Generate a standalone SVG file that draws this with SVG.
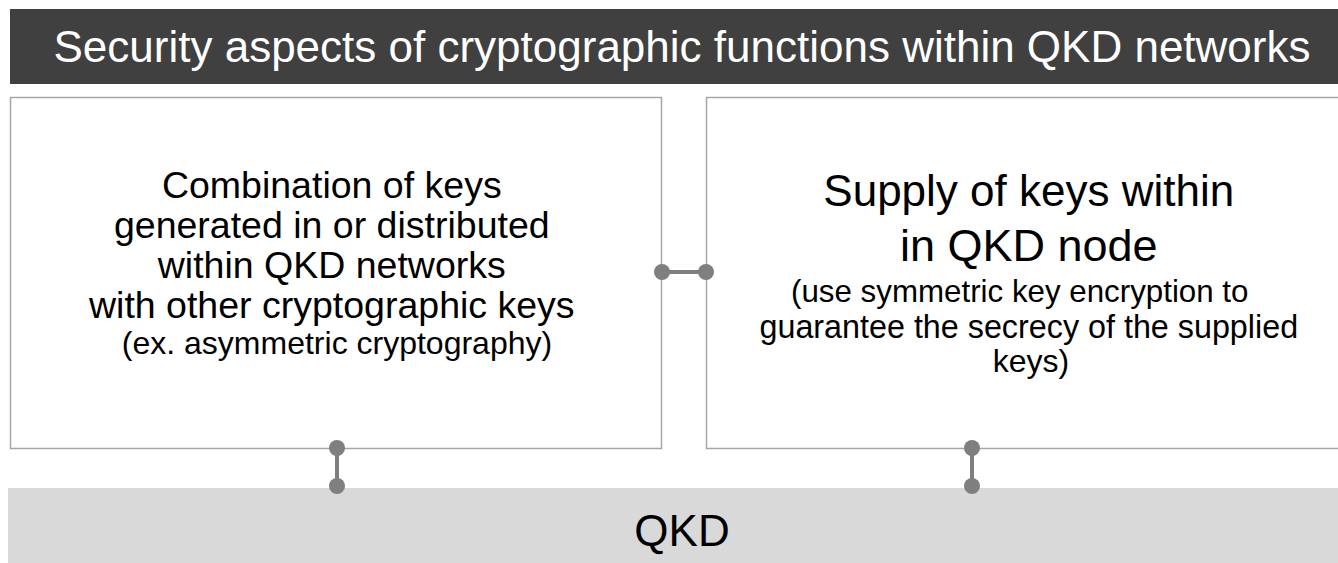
<svg xmlns="http://www.w3.org/2000/svg" width="1338" height="563" viewBox="0 0 1338 563">
  <style>
    .box { fill: #ffffff; stroke: #a6a6a6; stroke-width: 1.5; }
    .txt { font-family: "Liberation Sans", Arial, sans-serif; fill: #000000; text-anchor: middle; }
    .head { fill: #ffffff; }
    .link { stroke: #7f7f7f; stroke-width: 4; fill: none; }
    .dot { fill: #7f7f7f; }
  </style>
  <rect width="1338" height="563" fill="#ffffff"/>

  <g id="title">
    <rect x="10" y="9" width="1330" height="75" fill="#404040"/>
    <text class="txt head" x="682" y="62" font-size="44">Security aspects of cryptographic functions within QKD networks</text>
  </g>

  <g id="combination">
    <rect class="box" x="10.5" y="97.5" width="651" height="351"/>
    <text class="txt" font-size="37.5">
      <tspan x="337" y="198">Combination of keys</tspan>
      <tspan x="337" y="238">generated in or distributed</tspan>
      <tspan x="337" y="278">within QKD networks</tspan>
      <tspan x="337" y="318">with other cryptographic keys</tspan>
      <tspan x="337" y="354" font-size="32">(ex. asymmetric cryptography)</tspan>
    </text>
  </g>

  <g id="supply">
    <rect class="box" x="706.5" y="97.5" width="640" height="351"/>
    <text class="txt">
      <tspan x="1031" y="206" font-size="44">Supply of keys within</tspan>
      <tspan x="1031" y="261" font-size="45">in QKD node</tspan>
      <tspan x="1022" y="302" font-size="31.3">(use symmetric key encryption to</tspan>
      <tspan x="1031" y="338" font-size="32.3">guarantee the secrecy of the supplied</tspan>
      <tspan x="1031" y="372" font-size="32">keys)</tspan>
    </text>
  </g>

  <g id="qkd">
    <rect x="8" y="488" width="1330" height="75" fill="#d9d9d9"/>
    <text class="txt" x="682" y="546" font-size="44">QKD</text>
  </g>

  <g id="connectors">
    <line class="link" x1="662" y1="272" x2="706" y2="272"/>
    <circle class="dot" cx="662" cy="272" r="8"/>
    <circle class="dot" cx="706" cy="272" r="8"/>
    <line class="link" x1="337" y1="448" x2="337" y2="486"/>
    <circle class="dot" cx="337" cy="448" r="8"/>
    <circle class="dot" cx="337" cy="486" r="8"/>
    <line class="link" x1="972" y1="448" x2="972" y2="486"/>
    <circle class="dot" cx="972" cy="448" r="8"/>
    <circle class="dot" cx="972" cy="486" r="8"/>
  </g>
</svg>
